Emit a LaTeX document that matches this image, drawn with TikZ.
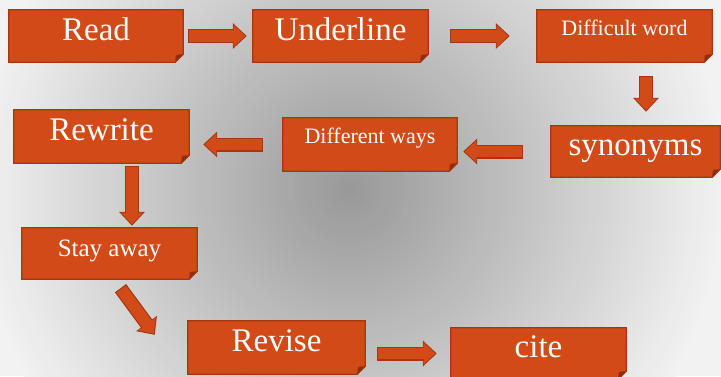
\documentclass[tikz,border=0pt]{standalone}
\usepackage{fontspec}
\setmainfont{Liberation Serif}
\usetikzlibrary{arrows.meta,calc}
\definecolor{boxfill}{RGB}{210,74,24}
\definecolor{boxedge}{RGB}{165,55,16}
\definecolor{folddark}{RGB}{140,44,12}
\definecolor{bgedge}{RGB}{242,242,242}
\pgfdeclarelayer{shadelayer}
\pgfdeclarelayer{boxlayer}
\pgfsetlayers{shadelayer,boxlayer,main}
\tikzset{
  box/.style={minimum height=52pt, inner sep=0pt, text=white, anchor=center},
  bigtext/.style={box, font=\fontsize{33}{33}\selectfont, text height=18pt, text depth=10pt},
  smalltext/.style={box, font=\fontsize{22}{22}\selectfont, text height=8pt, text depth=10pt},
  midtext/.style={box, font=\fontsize{25}{25}\selectfont, text height=15pt, text depth=10pt},
  boxshape/.style={fill=boxfill, draw=boxedge, line width=1.2pt, line join=miter},
  foldshape/.style={fill=folddark, draw=boxedge, line width=0.6pt},
  arrowout/.style={draw=boxedge, line width=14pt, -{Triangle[length=14pt,width=25pt]}},
  arrowin/.style={draw=boxfill, line width=11.6pt, shorten <=1.2pt, shorten >=1.6pt, -{Triangle[length=11.6pt,width=21pt]}}
}
\newcommand{\blockarrow}[2]{\draw[arrowout] #1 -- #2; \draw[arrowin] #1 -- #2;}
\begin{document}
\begin{tikzpicture}[x=1pt,y=-1pt]
\useasboundingbox (0,0) rectangle (721,376);
\begin{pgfonlayer}{shadelayer}
\begin{scope}
\clip (0,0) rectangle (721,376);
\fill[bgedge] (0,0) rectangle (721,376);
\foreach \r in {376,372,...,4}{
  \pgfmathsetmacro\gv{min(0.949,(152+0.24*\r)/255)}
  \definecolor{ringcol}{gray}{\gv}
  \fill[ringcol] (350,190) circle (\r pt);
}
\end{scope}
\end{pgfonlayer}

\node[bigtext, minimum width=174pt] (read) at (96,36) {Read};
\node[bigtext, minimum width=175pt] (under) at (340.5,36) {Underline};
\node[smalltext, minimum width=175pt] (diff) at (624.5,36) {Difficult word};
\node[bigtext, minimum width=169pt, minimum height=51pt] (syn) at (635.5,151.5) {synonyms};
\node[smalltext, minimum width=174pt, minimum height=53pt] (dw) at (370,144.5) {Different ways};
\node[bigtext, minimum width=175pt, minimum height=53pt] (rw) at (101.5,136.5) {Rewrite};
\node[midtext, minimum width=175pt, minimum height=51pt] (sa) at (109.5,253.5) {Stay away};
\node[bigtext, minimum width=177pt, minimum height=53pt] (rv) at (276.5,347.5) {Revise};
\node[bigtext, minimum width=175pt, minimum height=51pt] (ct) at (538.5,353.5) {cite};

\begin{pgfonlayer}{boxlayer}
\foreach \n in {read,under,diff,syn,dw,rw,sa,rv,ct}{
  \draw[boxshape] (\n.north west) -- (\n.north east) -- ($(\n.south east)+(0,-8)$)
    -- ($(\n.south east)+(-8,0)$) -- (\n.south west) -- cycle;
  \draw[foldshape] ($(\n.south east)+(0,-8)$) -- ($(\n.south east)+(-7,-7)$)
    -- ($(\n.south east)+(-8,0)$) -- cycle;
}
\end{pgfonlayer}

\blockarrow{($(read.east)+(5,0)$)}{($(under.west)+(-6,0)$)}
\blockarrow{($(under.east)+(22,0)$)}{($(diff.west)+(-27,0)$)}
\blockarrow{($(diff.south)+(21.5,14)$)}{($(syn.north)+(10.5,-14)$)}
\blockarrow{($(syn.west)+(-28,0)$)}{($(syn.west -| dw.east)+(6,0)$)}
\blockarrow{($(dw.west)+(-20,0)$)}{($(dw.west -| rw.east)+(14,0)$)}
\blockarrow{($(rw.south)+(30.5,3)$)}{($(sa.north)+(22.5,-2)$)}
\blockarrow{($(sa.south)+(11,9)$)}{($(rv.north west)+(-33,14)$)}
\blockarrow{($(ct.west -| rv.east)+(12,0)$)}{($(ct.west)+(-14,0)$)}
\end{tikzpicture}
\end{document}
